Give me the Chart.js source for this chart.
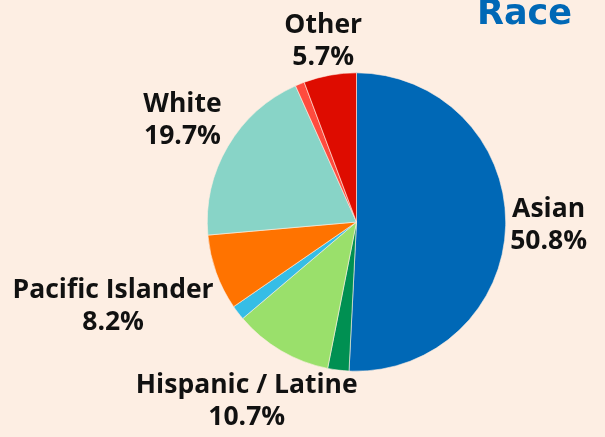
<!DOCTYPE html>
<html><head><meta charset="utf-8">
<script src="https://cdn.jsdelivr.net/npm/chart.js@4"></script>
<style>html,body{margin:0;padding:0;background:#fdeee3;}#wrap{width:605px;height:437px;position:relative;}</style>
</head><body><div id="wrap"><canvas id="c" width="605" height="437"></canvas></div>
<script>
const categories = ['Asian', 'Black', 'Hispanic / Latine', 'Native American', 'Pacific Islander', 'White', 'Middle Eastern', 'Other'];
const values = [50.8, 2.3, 10.7, 1.6, 8.2, 19.7, 1.0, 5.7];
const showLabel = [true, false, true, false, true, true, false, true];
const colors = ['#0068b6', '#009052', '#9ae06b', '#36bde6', '#ff7300', '#88d4c7', '#ff4b3e', '#de0c00'];
const labelNudge = [[-5.5, -5], [0, 0], [27, 11], [0, 0], [1, 16], [-3, -8], [0, 0], [2, 4.5]];
const titleText = 'Race';

const labelPlugin = {
  id: 'outsideLabels',
  afterDatasetsDraw(chart) {
    const ctx = chart.ctx;
    const meta = chart.getDatasetMeta(0);
    ctx.save();
    ctx.font = 'bold 26.5px "Open Sans"';
    ctx.fillStyle = '#111';
    ctx.textAlign = 'center';
    ctx.textBaseline = 'alphabetic';
    const lh = 32;
    meta.data.forEach((arc, i) => {
      if (!showLabel[i]) return;
      const p = arc.getProps(['x', 'y', 'startAngle', 'endAngle', 'outerRadius'], true);
      const mid = (p.startAngle + p.endAngle) / 2;
      const cx = Math.cos(mid), sy = Math.sin(mid);
      const d = p.outerRadius + 10;
      const lines = [categories[i], values[i].toFixed(1) + '%'];
      const w = Math.max(...lines.map(t => ctx.measureText(t).width));
      const h = lh * 2;
      const bx = p.x + cx * d + cx * w / 2 + labelNudge[i][0];
      const by = p.y + sy * d + sy * h / 2 + labelNudge[i][1];
      ctx.fillText(lines[0], bx, by - 5);
      ctx.fillText(lines[1], bx, by - 5 + lh);
    });
    ctx.font = 'bold 35px "DejaVu Sans"';
    ctx.fillStyle = '#0068b6';
    ctx.textAlign = 'right';
    ctx.fillText(titleText, 572, 24);
    ctx.restore();
  }
};

new Chart(document.getElementById('c'), {
  type: 'pie',
  data: {
    labels: categories,
    datasets: [{
      data: values,
      backgroundColor: colors,
      borderColor: '#fdeee3',
      borderWidth: 0.6
    }]
  },
  options: {
    responsive: false,
    animation: false,
    layout: { padding: { top: 72.5, bottom: 65.5, left: 207, right: 99 } },
    plugins: { legend: { display: false }, tooltip: { enabled: false }, title: { display: false } }
  },
  plugins: [labelPlugin]
});
</script>
</body></html>
